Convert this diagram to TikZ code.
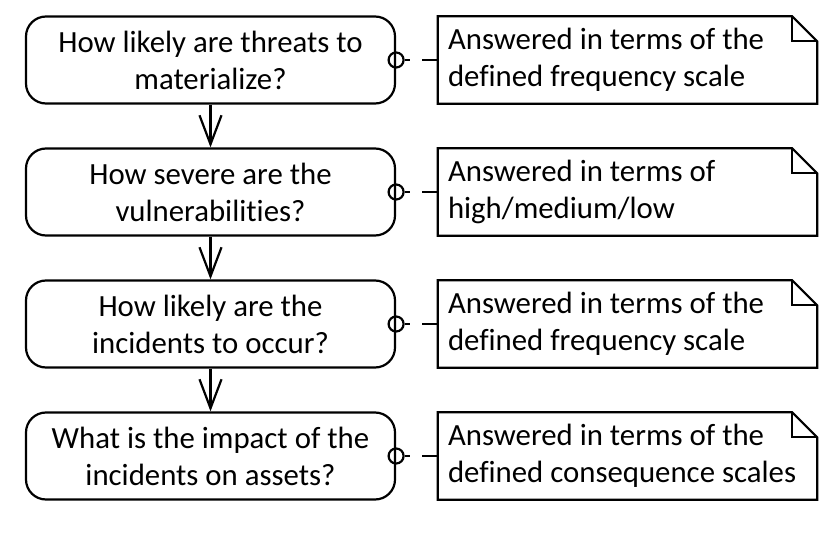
\documentclass[tikz,border=0pt]{standalone}
\usepackage{fontspec}
\setmainfont{Carlito}[Ligatures=NoCommon]
\usetikzlibrary{arrows.meta,calc}
\begin{document}
\begin{tikzpicture}[x=1bp,y=-1bp,
  every node/.style={font=\fontsize{30.8bp}{37bp}\selectfont},
  question/.style={draw, line width=2.2bp, rounded corners=20bp,
    minimum width=369bp, minimum height=87bp, align=flush center, inner sep=0pt},
  answer/.style={minimum width=379bp, minimum height=87bp,
    text width=359bp, inner xsep=10bp, inner ysep=0pt, align=flush left},
  noteline/.style={line width=2.2bp, line join=miter},
  flow/.style={line width=2.2bp, -{Straight Barb[length=29bp,width=22bp]}},
  link/.style={line width=2.2bp, dash pattern=on 16bp off 12bp},
  knob/.style={circle, draw, line width=2.2bp, minimum size=15bp, inner sep=0pt}
]
\useasboundingbox (0,0) rectangle (827,540);

% questions on the left
\node[question] (q1) at (210.5,60)  {How likely are threats to\\materialize?};
\node[question] (q2) at (210.5,192) {How severe are the\\vulnerabilities?};
\node[question] (q3) at (210.5,324) {How likely are the\\incidents to occur?};
\node[question] (q4) at (210.5,456) {What is the impact of the\\incidents on assets?};

% answers on the right
\node[answer] (a1) at (627.5,60)  {Answered in terms of the\\defined frequency scale};
\node[answer] (a2) at (627.5,192) {Answered in terms of\\high/medium/low};
\node[answer] (a3) at (627.5,324) {Answered in terms of the\\defined frequency scale};
\node[answer] (a4) at (627.5,456) {Answered in terms of the\\defined consequence scales};

% note outlines with folded corner
\foreach \n in {a1,a2,a3,a4}{
  \draw[noteline] (\n.north west) -- ($(\n.north east)+(-25,0)$)
    -- ($(\n.north east)+(0,25)$) -- (\n.south east) -- (\n.south west) -- cycle;
  \draw[noteline] ($(\n.north east)+(-25,0)$) -- ($(\n.north east)+(-25,25)$)
    -- ($(\n.north east)+(0,25)$);
}

% attachment knobs and dashed links
\foreach \i in {1,2,3,4}{
  \node[knob] (k\i) at (q\i.east) {};
  \draw[link] (a\i.west) -- (k\i.east);
}

% flow between questions
\draw[flow] (q1.south) -- (q2.north);
\draw[flow] (q2.south) -- (q3.north);
\draw[flow] (q3.south) -- (q4.north);
\end{tikzpicture}
\end{document}
